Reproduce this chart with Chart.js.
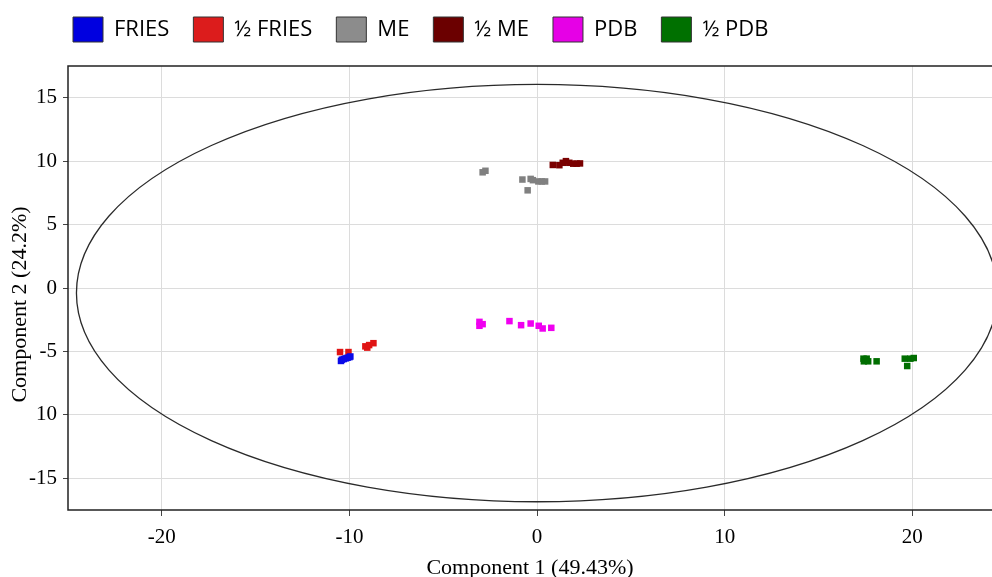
<!DOCTYPE html>
<html>
<head>
<meta charset="utf-8">
<script src="https://cdn.jsdelivr.net/npm/chart.js@4"></script>
<style>
  html, body { margin: 0; padding: 0; background: #fff; }
</style>
</head>
<body>
<canvas id="c" width="992" height="577"></canvas>
<script>
// group names and colours
const seriesNames = ['FRIES', '½ FRIES', 'ME', '½ ME', 'PDB', '½ PDB'];
const pointColors = ['#0a0ae8', '#e01414', '#808080', '#7a0000', '#f000f0', '#006e00'];
const legendColors = ['#0000e0', '#dc1c1c', '#8c8c8c', '#6b0000', '#e600e6', '#007000'];

// scores
const friesX = [-10.45, -10.4, -10.3, -10.2, -10.1, -10.0, -9.95];
const friesY = [-5.75, -5.65, -5.6, -5.55, -5.5, -5.45, -5.4];
const halfFriesX = [-10.5, -10.05, -9.15, -9.05, -8.95, -8.72];
const halfFriesY = [-5.05, -5.05, -4.6, -4.7, -4.5, -4.35];
const meX = [-2.9, -2.75, -0.78, -0.34, -0.22, 0.07, 0.25, 0.43, -0.5];
const meY = [9.12, 9.24, 8.55, 8.6, 8.5, 8.4, 8.4, 8.4, 7.7];
const halfMeX = [0.84, 1.19, 1.37, 1.54, 1.72, 1.93, 2.11, 2.29];
const halfMeY = [9.7, 9.68, 9.87, 10.0, 9.87, 9.8, 9.8, 9.82];
const pdbX = [-3.07, -2.9, -3.07, -1.47, -0.85, -0.34, 0.09, 0.3, 0.76];
const pdbY = [-2.67, -2.85, -2.98, -2.61, -2.93, -2.8, -2.98, -3.19, -3.14];
const halfPdbX = [17.4, 17.57, 17.42, 17.65, 18.1, 19.6, 19.73, 19.9, 20.08];
const halfPdbY = [-5.57, -5.57, -5.78, -5.78, -5.78, -5.57, -6.15, -5.57, -5.52];

// axes
const xTicks = [-20, -10, 0, 10, 20];
const yTicks = [-15, -10, -5, 0, 5, 10, 15];
const yTickText = { '-10': '10' }; // the original prints "10" there
const xRange = [-25, 24.25];
const yRange = [-17.5, 17.5];

// Hotelling ellipse (center + half axes, in data units)
const ellipseCenter = [0, -0.4];
const ellipseRadii = [24.55, 16.45];

const seriesX = [friesX, halfFriesX, meX, halfMeX, pdbX, halfPdbX];
const seriesY = [friesY, halfFriesY, meY, halfMeY, pdbY, halfPdbY];

const datasets = seriesNames.map((name, i) => ({
  label: name,
  data: seriesX[i].map((x, j) => ({ x: x, y: seriesY[i][j] })),
  backgroundColor: pointColors[i],
  borderColor: pointColors[i],
  borderWidth: 0,
  pointStyle: 'rect',
  pointRadius: 4.6,
  pointHoverRadius: 4.6
}));

const ellipsePlugin = {
  id: 'ellipse',
  beforeDatasetsDraw(chart) {
    const { ctx, chartArea, scales } = chart;
    const cx = scales.x.getPixelForValue(ellipseCenter[0]);
    const cy = scales.y.getPixelForValue(ellipseCenter[1]);
    const rx = Math.abs(scales.x.getPixelForValue(ellipseCenter[0] + ellipseRadii[0]) - cx);
    const ry = Math.abs(scales.y.getPixelForValue(ellipseCenter[1] + ellipseRadii[1]) - cy);
    ctx.save();
    ctx.beginPath();
    ctx.rect(chartArea.left, chartArea.top, chartArea.right - chartArea.left, chartArea.bottom - chartArea.top);
    ctx.clip();
    ctx.beginPath();
    ctx.ellipse(cx, cy, rx, ry, 0, 0, Math.PI * 2);
    ctx.strokeStyle = '#2a2a2a';
    ctx.lineWidth = 1.3;
    ctx.stroke();
    ctx.restore();
  },
  afterDraw(chart) {
    // frame: top, left and bottom (the right side is cut off in the original)
    const { ctx, chartArea } = chart;
    ctx.save();
    ctx.strokeStyle = '#222';
    ctx.lineWidth = 1.5;
    ctx.beginPath();
    ctx.moveTo(chartArea.right, chartArea.top);
    ctx.lineTo(chartArea.left, chartArea.top);
    ctx.lineTo(chartArea.left, chartArea.bottom);
    ctx.lineTo(chartArea.right, chartArea.bottom);
    ctx.stroke();
    ctx.restore();
  }
};

// move the legend to where the original has it
const legendShift = {
  id: 'legendShift',
  afterLayout(chart) {
    chart.legend.left += 49;
    chart.legend.top -= 14;
  }
};

const serif = 'Liberation Serif';

new Chart(document.getElementById('c'), {
  type: 'scatter',
  data: { datasets: datasets },
  plugins: [ellipsePlugin, legendShift],
  options: {
    responsive: false,
    devicePixelRatio: 1,
    animation: false,
    events: [],
    layout: { autoPadding: false, padding: { top: 7, right: 0, bottom: 0, left: 0 } },
    plugins: {
      tooltip: { enabled: false },
      legend: {
        position: 'top',
        align: 'start',
        labels: {
          boxWidth: 30,
          boxHeight: 25,
          padding: 24,
          color: '#000',
          font: { family: 'Open Sans', size: 22 },
          generateLabels: (chart) => seriesNames.map((name, i) => ({
            text: name,
            fillStyle: legendColors[i],
            strokeStyle: '#333',
            lineWidth: 1,
            datasetIndex: i,
            hidden: false
          }))
        }
      }
    },
    scales: {
      x: {
        type: 'linear',
        min: xRange[0],
        max: xRange[1],
        afterBuildTicks: (s) => { s.ticks = xTicks.map(v => ({ value: v })); },
        afterFit: (s) => { s.height = 67; },
        grid: { color: '#dcdcdc', tickColor: '#444', tickLength: 6 },
        border: { display: false },
        ticks: { color: '#000', padding: 9, font: { family: serif, size: 21 } },
        title: {
          display: true,
          text: 'Component 1 (49.43%)',
          color: '#000',
          font: { family: serif, size: 22, lineHeight: 1 },
          padding: { top: 0, bottom: -2 }
        }
      },
      y: {
        type: 'linear',
        min: yRange[0],
        max: yRange[1],
        afterBuildTicks: (s) => { s.ticks = yTicks.map(v => ({ value: v })); },
        afterFit: (s) => { s.width = 68; },
        grid: { color: '#dcdcdc', tickColor: '#444', tickLength: 5 },
        border: { display: false },
        ticks: {
          color: '#000',
          padding: 6,
          font: { family: serif, size: 21 },
          callback: (v) => (yTickText[String(v)] !== undefined ? yTickText[String(v)] : String(v))
        },
        title: {
          display: true,
          // trailing spaces push the text down a little, as in the original
          text: 'Component 2 (24.2%)\u00a0\u00a0\u00a0\u00a0\u00a0\u00a0',
          color: '#000',
          font: { family: serif, size: 22, lineHeight: 1 },
          padding: { top: 9, bottom: 0 }
        }
      }
    }
  }
});
</script>
</body>
</html>
